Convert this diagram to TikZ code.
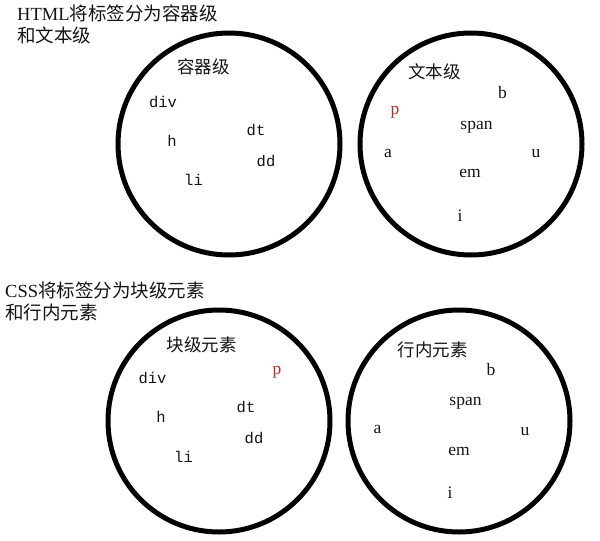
\documentclass[tikz,border=0pt]{standalone}
\usepackage{fontspec}
\setmainfont{Liberation Serif}
\newfontfamily\cjk{Noto Sans CJK SC}
\newfontfamily\monofont{Liberation Mono}
\definecolor{tagred}{RGB}{185,45,45}
\definecolor{ink}{RGB}{20,20,20}
\tikzset{
  ring/.style={circle, draw=black, line width=5pt, minimum size=222pt, inner sep=0pt},
  title/.style={anchor=west, align=left, inner sep=0pt, text=ink, font=\fontsize{18.5}{22}\selectfont},
  group/.style={inner sep=0pt, text=ink, font=\cjk\fontsize{17.5}{20}\selectfont},
  mtag/.style={inner sep=0pt, text=ink, font=\monofont\fontsize{15.5}{18}\selectfont},
  stag/.style={inner sep=0pt, text=ink, font=\fontsize{17.5}{20}\selectfont},
  rtag/.style={stag, text=tagred}
}
\begin{document}
\begin{tikzpicture}[x=1pt,y=-1pt]
\useasboundingbox (0,0) rectangle (600,541);
% titles
\node[title] (title1) at (17,24) {HTML{\cjk 将标签分为容器级}\\{\cjk 和文本级}};
\node[title] (title2) at (5,301) {CSS{\cjk 将标签分为块级元素}\\{\cjk 和行内元素}};
% circles
\node[ring] (c1) at (229,144) {};
\node[ring] (c2) at (471,144) {};
\node[ring] (c3) at (219,421) {};
\node[ring] (c4) at (459,421) {};
% top-left
\node[group] (g1) at (203.5,67) {容器级};
\node[mtag] (a1) at (163,102) {div};
\node[mtag] (a2) at (172,141) {h};
\node[mtag] (a3) at (256,130) {dt};
\node[mtag] (a4) at (266,161) {dd};
\node[mtag] (a5) at (193.5,180) {li};
% top-right
\node[group] (g2) at (434.5,72) {文本级};
\node[stag] (b1) at (502.5,93) {b};
\node[rtag] (b2) at (395,112) {p};
\node[stag] (b3) at (476.5,127) {span};
\node[stag] (b4) at (388,153) {a};
\node[stag] (b5) at (536,154) {u};
\node[stag] (b6) at (470,173) {em};
\node[stag] (b7) at (460,216) {i};
% bottom-left
\node[group] (g3) at (201.5,345) {块级元素};
\node[mtag] (d1) at (152.5,378) {div};
\node[rtag] (d2) at (277,372) {p};
\node[mtag] (d3) at (161,417) {h};
\node[mtag] (d4) at (246,407) {dt};
\node[mtag] (d5) at (254,438) {dd};
\node[mtag] (d6) at (183.5,457) {li};
% bottom-right
\node[group] (g4) at (432.5,350) {行内元素};
\node[stag] (e1) at (491,370) {b};
\node[stag] (e2) at (465.5,403) {span};
\node[stag] (e3) at (377.5,429) {a};
\node[stag] (e4) at (525,432) {u};
\node[stag] (e5) at (459,451) {em};
\node[stag] (e6) at (450,493) {i};
\end{tikzpicture}
\end{document}
